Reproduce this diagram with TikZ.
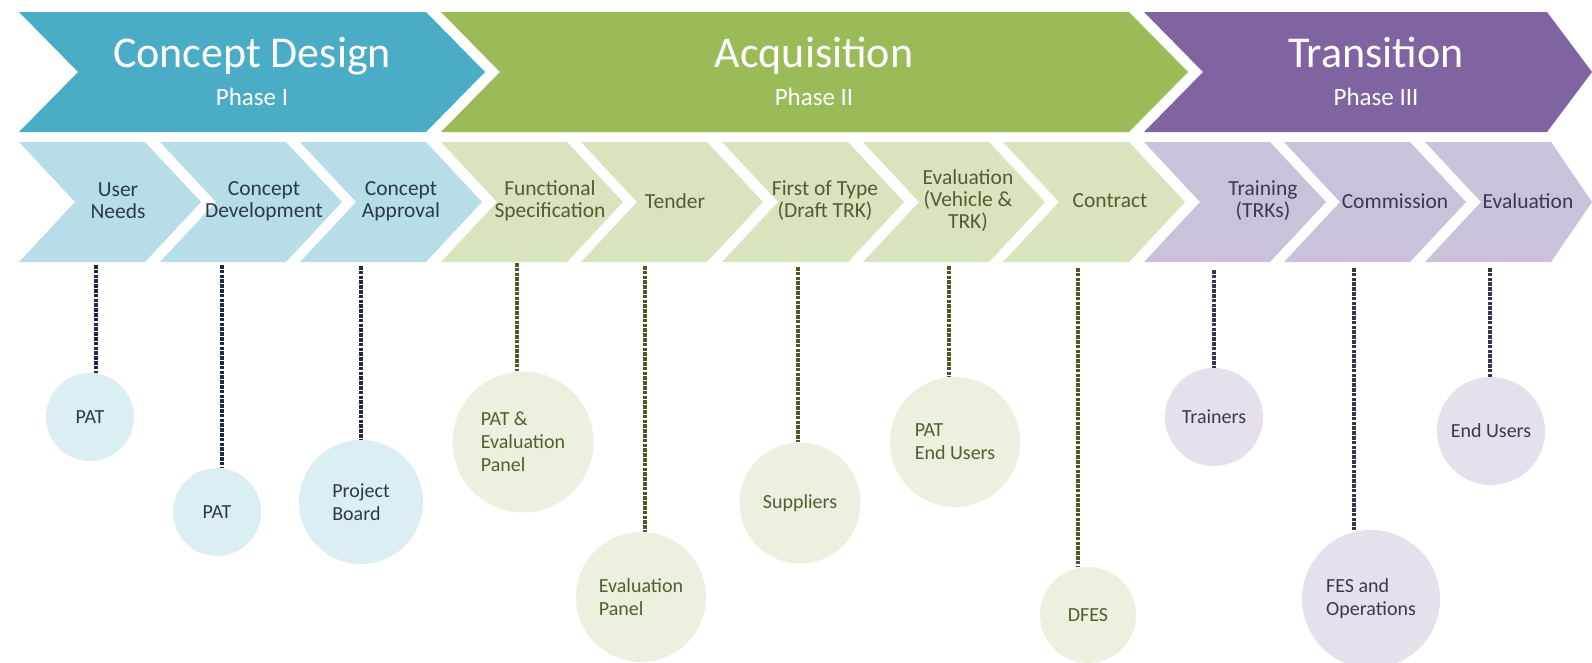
\documentclass[tikz,border=0pt]{standalone}
\usepackage{fontspec}
\setmainfont{Carlito}
\definecolor{designtop}{HTML}{4BACC6}
\definecolor{acqtop}{HTML}{9BBB59}
\definecolor{transtop}{HTML}{8064A2}
\definecolor{designsub}{HTML}{B7DEE8}
\definecolor{acqsub}{HTML}{D7E4BD}
\definecolor{transsub}{HTML}{CCC1DA}
\definecolor{designcirc}{HTML}{DAEEF3}
\definecolor{acqcirc}{HTML}{EBF1DE}
\definecolor{transcirc}{HTML}{E5E0EC}
\definecolor{designtext}{HTML}{2A3A4C}
\definecolor{acqtext}{HTML}{4F5F30}
\definecolor{transtext}{HTML}{3D3750}
\definecolor{designline}{HTML}{1F2A44}
\definecolor{acqline}{HTML}{4C5A2A}
\definecolor{transline}{HTML}{363650}
% chevron: [colour](left,top)(shoulder,bottom){notch depth}{tip depth}
\def\chevron[#1](#2,#3)(#4,#5)#6#7{\fill[#1] (#2,#3) -- (#4,#3) -- ({#4+#7},{(#3+#5)/2}) -- (#4,#5) -- (#2,#5) -- ({#2+#6},{(#3+#5)/2}) -- cycle;}
\tikzset{
  phasename/.style={text=white, anchor=base, font=\fontsize{44}{48}\selectfont},
  phasenum/.style={text=white, anchor=base, font=\fontsize{25}{28}\selectfont},
  steplabel/.style={align=center, font=\fontsize{21.5}{22}\selectfont},
  designstep/.style={steplabel, text=designtext},
  acqstep/.style={steplabel, text=acqtext},
  transstep/.style={steplabel, text=transtext},
  member/.style={circle, inner sep=0pt, align=left, font=\fontsize{20}{23}\selectfont},
  designmember/.style={member, fill=designcirc, text=designtext},
  acqmember/.style={member, fill=acqcirc, text=acqtext},
  transmember/.style={member, fill=transcirc, text=transtext},
  link/.style={line width=4.5pt, dash pattern=on 3.5pt off 1.3pt},
  designlink/.style={link, draw=designline},
  acqlink/.style={link, draw=acqline},
  translink/.style={link, draw=transline},
}
\begin{document}
\begin{tikzpicture}[x=1pt, y=-1pt]
			\useasboundingbox (0,0) rectangle (1592,662);
			\clip (0,0) rectangle (1592,662);
			
			%%%%% PHASES %%%%%
			\chevron[designtop](19,12)(426,132){59}{59}
			\chevron[acqtop](441,12)(1129,132){59}{59}
			\chevron[transtop](1144,12)(1547,132){59}{45}
			
			\node[phasename] (design) at (252,67) {Concept Design};
			\node[phasenum] (designnum) at (252,105) {Phase I};
			\node[phasename] (acquisition) at (814,67) {Acquisition};
			\node[phasenum] (acquisitionnum) at (814,105) {Phase II};
			\node[phasename] (transition) at (1376,67) {Transition};
			\node[phasenum] (transitionnum) at (1376,105) {Phase III};
			
			%%%%% STEPS %%%%%
			\chevron[designsub](19,142)(145,262){56}{56}
			\chevron[designsub](160,142)(286,262){56}{56}
			\chevron[designsub](300,142)(426,262){56}{56}
			\chevron[acqsub](441,142)(567,262){56}{56}
			\chevron[acqsub](581,142)(707,262){56}{56}
			\chevron[acqsub](722,142)(848,262){56}{56}
			\chevron[acqsub](863,142)(989,262){56}{56}
			\chevron[acqsub](1003,142)(1129,262){56}{56}
			\chevron[transsub](1144,142)(1270,262){56}{56}
			\chevron[transsub](1284,142)(1410,262){56}{56}
			\chevron[transsub](1425,142)(1551,262){56}{41}
			
			\node[designstep] (userneeds) at (118,201) {User\\Needs};
			\node[designstep] (conceptdev) at (264,201) {Concept\\Development};
			\node[designstep] (conceptok) at (401,201) {Concept\\Approval};
			\node[acqstep] (funcspec) at (550,201) {Functional\\Specification};
			\node[acqstep] (tender) at (675,201) {Tender};
			\node[acqstep] (firsttype) at (825,201) {First of Type\\(Draft TRK)};
			\node[acqstep] (evalvehicle) at (968,201) {Evaluation\\(Vehicle \&\\TRK)};
			\node[acqstep] (contract) at (1110,201) {Contract};
			\node[transstep] (training) at (1263,201) {Training\\(TRKs)};
			\node[transstep] (commission) at (1395,201) {Commission};
			\node[transstep] (evaluation) at (1528,201) {Evaluation};
			
			%%%%% WHO %%%%%
			\node[designmember, minimum size=88pt] (pat) at (90,417) {PAT};
			\node[designmember, minimum size=88pt] (pattwo) at (217,512) {PAT};
			\node[designmember, minimum size=124pt] (board) at (361,502) {Project\\Board};
			\node[acqmember, minimum size=141pt] (pateval) at (523,442) {PAT \&\\Evaluation\\Panel};
			\node[acqmember, minimum size=130pt] (evalpanel) at (641,597) {Evaluation\\Panel};
			\node[acqmember, minimum size=121pt] (suppliers) at (800,503) {Suppliers};
			\node[acqmember, minimum size=130pt] (patend) at (955,442) {PAT\\End Users};
			\node[acqmember, minimum size=96pt] (dfes) at (1088,615) {DFES};
			\node[transmember, minimum size=98pt] (trainers) at (1214,417) {Trainers};
			\node[transmember, minimum size=138pt] (fesops) at (1371,599) {FES and\\Operations};
			\node[transmember, minimum size=108pt] (endusers) at (1491,431) {End Users};
			
			\coordinate (userneedsfoot) at (96,265);
			\coordinate (conceptdevfoot) at (222,265);
			\coordinate (conceptokfoot) at (361,266);
			\coordinate (funcspecfoot) at (517,263);
			\coordinate (tenderfoot) at (645,266);
			\coordinate (firsttypefoot) at (798,267);
			\coordinate (evalvehiclefoot) at (949,266);
			\coordinate (contractfoot) at (1078,268);
			\coordinate (trainingfoot) at (1214,270);
			\coordinate (commissionfoot) at (1354,268);
			\coordinate (evaluationfoot) at (1490,268);
			
			\draw[designlink] (userneedsfoot) -- (userneedsfoot |- pat.north);
			\draw[designlink] (conceptdevfoot) -- (conceptdevfoot |- pattwo.north);
			\draw[designlink] (conceptokfoot) -- (conceptokfoot |- board.north);
			\draw[acqlink] (funcspecfoot) -- (funcspecfoot |- pateval.north);
			\draw[acqlink] (tenderfoot) -- (tenderfoot |- evalpanel.north);
			\draw[acqlink] (firsttypefoot) -- (firsttypefoot |- suppliers.north);
			\draw[acqlink] (evalvehiclefoot) -- (evalvehiclefoot |- patend.north);
			\draw[acqlink] (contractfoot) -- (contractfoot |- dfes.north);
			\draw[translink] (trainingfoot) -- (trainingfoot |- trainers.north);
			\draw[translink] (commissionfoot) -- (commissionfoot |- fesops.north);
			\draw[translink] (evaluationfoot) -- (evaluationfoot |- endusers.north);
			
\end{tikzpicture}
\end{document}
